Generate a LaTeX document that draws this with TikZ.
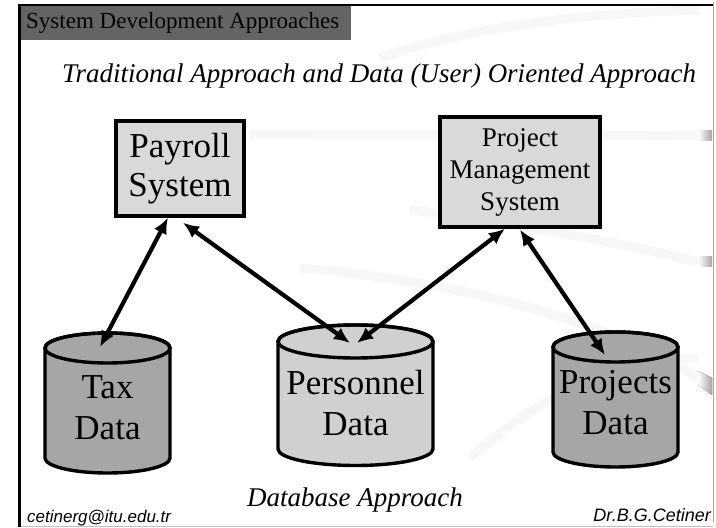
\documentclass[tikz,border=0pt]{standalone}
\usepackage{fontspec}
\setmainfont{Liberation Serif}
\newfontfamily\arialfont{Liberation Sans}
\usetikzlibrary{arrows.meta,calc}
\definecolor{hdrgray}{HTML}{646464}
\definecolor{boxgray}{HTML}{D9D9D9}
\definecolor{lightcyl}{HTML}{D0D0D0}
\definecolor{darkcyl}{HTML}{A6A6A6}
\definecolor{bandgray}{HTML}{F7F7F7}
\tikzset{
  sysbox/.style={draw=black,line width=3.4pt,fill=boxgray,align=center,inner sep=0pt},
  cyltext/.style={align=center,font=\fontsize{35}{41}\selectfont,inner sep=0pt},
  cylline/.style={draw=black,line width=3.4pt},
  link/.style={line width=4.2pt,{Latex[length=16pt,width=14pt]}-{Latex[length=16pt,width=14pt]}},
  band/.style={draw=bandgray,line width=9pt},
  tick/.style={left color=white,right color=gray!70,draw=none}
}
\begin{document}
\begin{tikzpicture}[x=1pt,y=1pt]
\useasboundingbox (0,0) rectangle (716,528);
\fill[white] (0,0) rectangle (716,528);
% background bands
\draw[band] (250,393) .. controls (450,394) and (600,393) .. (698,392);
\draw[band] (380,470) .. controls (480,505) and (600,515) .. (700,518);
\draw[band] (410,318) .. controls (520,305) and (620,285) .. (698,266);
\draw[band] (300,260) .. controls (480,245) and (620,200) .. (698,150);
\draw[band] (470,70) .. controls (560,150) and (640,170) .. (698,170);
\fill[tick] (698,387) rectangle (712,397);
\fill[tick] (698,261) rectangle (712,271);
\fill[tick] (698,143) -- (712,133) -- (712,150) -- (698,157) -- cycle;
% frame
\draw[gray!70,line width=1pt] (713,6) -- (713,526);
\draw[gray!50,line width=1pt] (19,1) -- (713,1);
\draw[black,line width=2pt] (18,523) -- (713,523);
\fill[hdrgray] (19,488) rectangle (351,522);
\draw[black,line width=3pt] (19,1) -- (19,524);
\node[anchor=base west,inner sep=0pt,font=\fontsize{23}{26}\selectfont] (hdr) at (26,499) {System Development Approaches};
% titles
\node[anchor=base,inner sep=0pt,font=\fontsize{27}{31}\selectfont\itshape] (title) at (379,445) {Traditional Approach and Data (User) Oriented Approach};
\node[anchor=base,inner sep=0pt,font=\fontsize{27}{31}\selectfont\itshape] (dbtitle) at (355,21) {Database Approach};
\node[anchor=base west,inner sep=0pt,font=\arialfont\itshape\fontsize{17}{19}\selectfont] (mail) at (27,5) {cetinerg@itu.edu.tr};
\node[anchor=base east,inner sep=0pt,font=\arialfont\itshape\fontsize{18}{20}\selectfont] (auth) at (711,6) {Dr.B.G.Cetiner};
% system boxes
\node[sysbox,minimum width=128pt,minimum height=95pt,font=\fontsize{35}{39}\selectfont] (pay) at (180,359.5) {Payroll\\System};
\node[sysbox,minimum width=160pt,minimum height=110pt,font=\fontsize{27}{32}\selectfont] (pm) at (520,356) {Project\\Management\\System};
% cylinders
\filldraw[cylline,fill=darkcyl] (45,180) -- (45,70) arc (180:360:62.5 and 15) -- (170,180) arc (0:180:62.5 and 15) -- cycle;
\draw[cylline] (107.5,180) ellipse (62.5 and 15);
\filldraw[cylline,fill=lightcyl] (278,186.5) -- (278,79) arc (180:360:77.5 and 16.5) -- (433,186.5) arc (0:180:77.5 and 16.5) -- cycle;
\draw[cylline] (355.5,186.5) ellipse (77.5 and 16.5);
\filldraw[cylline,fill=darkcyl] (553,181) -- (553,76) arc (180:360:62.5 and 15) -- (678,181) arc (0:180:62.5 and 15) -- cycle;
\draw[cylline] (615.5,181) ellipse (62.5 and 15);
\node[cyltext] (tax) at (107.5,120) {Tax\\Data};
\node[cyltext] (pers) at (355.5,125) {Personnel\\Data};
\node[cyltext] (proj) at (615.5,125) {Projects\\Data};
% connector end points
\coordinate (payA) at ($(pay.south)+(-12,0)$);
\coordinate (payB) at ($(pay.south)+(3,-5)$);
\coordinate (pmA) at ($(pm.south)+(-15,0)$);
\coordinate (pmB) at ($(pm.south)+(0,-1)$);
\coordinate (taxT) at (100,181);
\coordinate (persL) at (350,185);
\coordinate (persR) at (357,185);
\coordinate (projT) at (605,173);
\draw[link] (payA) -- (taxT);
\draw[link] (payB) -- (persL);
\draw[link] (pmA) -- (persR);
\draw[link] (pmB) -- (projT);
\end{tikzpicture}
\end{document}
